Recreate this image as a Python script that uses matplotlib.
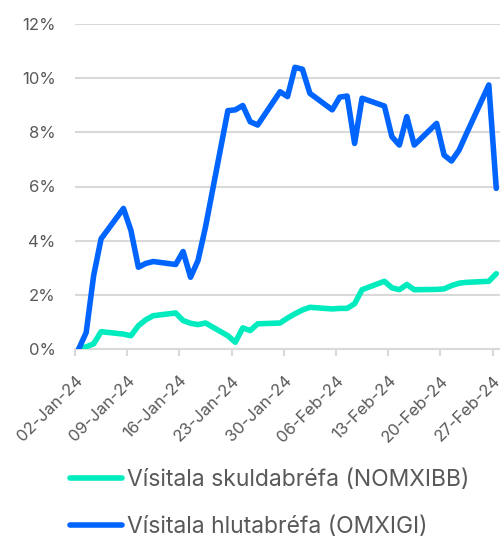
import matplotlib.pyplot as plt
import numpy as np
import pandas as pd

plt.rcParams['font.family'] = ['Inter', 'DejaVu Sans']

###--- Data ---###
dates = pd.to_datetime([
    '2024-01-02', '2024-01-03', '2024-01-04', '2024-01-05', '2024-01-08',
    '2024-01-09', '2024-01-10', '2024-01-11', '2024-01-12', '2024-01-15',
    '2024-01-16', '2024-01-17', '2024-01-18', '2024-01-19', '2024-01-22',
    '2024-01-23', '2024-01-24', '2024-01-25', '2024-01-26', '2024-01-29',
    '2024-01-30', '2024-01-31', '2024-02-01', '2024-02-02', '2024-02-05',
    '2024-02-06', '2024-02-07', '2024-02-08', '2024-02-09', '2024-02-12',
    '2024-02-13', '2024-02-14', '2024-02-15', '2024-02-16', '2024-02-19',
    '2024-02-20', '2024-02-21', '2024-02-22', '2024-02-23', '2024-02-26',
    '2024-02-27',
])

# Vísitala skuldabréfa (NOMXIBB), %
bonds = [0.00, 0.08, 0.19, 0.64, 0.55,
         0.49, 0.86, 1.08, 1.23, 1.33,
         1.05, 0.95, 0.90, 0.96, 0.49,
         0.25, 0.78, 0.68, 0.93, 0.96,
         1.14, 1.30, 1.44, 1.54, 1.48,
         1.50, 1.50, 1.67, 2.19, 2.50,
         2.26, 2.19, 2.38, 2.19, 2.20,
         2.22, 2.34, 2.43, 2.46, 2.50,
         2.78]

# Vísitala hlutabréfa (OMXIGI), %
stocks = [0.00, 0.61, 2.71, 4.07, 5.19,
          4.38, 3.02, 3.16, 3.23, 3.12,
          3.60, 2.65, 3.27, 4.50, 8.80,
          8.83, 8.99, 8.39, 8.27, 9.50,
          9.32, 10.40, 10.33, 9.44, 8.83,
          9.30, 9.34, 7.59, 9.26, 8.97,
          7.84, 7.53, 8.58, 7.53, 8.33,
          7.16, 6.94, 7.34, 7.95, 9.75,
          5.93]

labels = ['Vísitala skuldabréfa (NOMXIBB)', 'Vísitala hlutabréfa (OMXIGI)']
tick_dates = pd.date_range('2024-01-02', '2024-02-27', freq='7D')

###--- Plot ---###
c_bond = '#00EBBE'
c_stock = '#0064FF'
grey = '#595959'
gridc = '#D9D9D9'

fig = plt.figure(figsize=(5.0, 5.39), dpi=100)
ax = fig.add_axes([75 / 500, 1 - 349 / 539, 425 / 500, 325 / 539])

ax.plot(dates, bonds, color=c_bond, lw=4, solid_joinstyle='round',
        solid_capstyle='round', label=labels[0], zorder=3)
ax.plot(dates, stocks, color=c_stock, lw=4, solid_joinstyle='round',
        solid_capstyle='round', label=labels[1], zorder=4)

half = pd.Timedelta(hours=12)
ax.set_xlim(tick_dates[0] - half, pd.Timestamp('2024-02-28') - half)
ax.set_ylim(0, 12)

ax.set_yticks(np.arange(0, 13, 2))
ax.set_yticklabels([f'{v}%' for v in range(0, 13, 2)])
ax.set_xticks(tick_dates - half)
ax.set_xticklabels([d.strftime('%d-%b-%y') for d in tick_dates])

ax.grid(axis='y', color=gridc, lw=1.5)
ax.set_axisbelow(True)
for s in ['top', 'right', 'left']:
    ax.spines[s].set_visible(False)
ax.spines['bottom'].set_color(gridc)
ax.spines['bottom'].set_linewidth(1.5)

ax.tick_params(axis='y', length=0, pad=14, labelsize=12, labelcolor=grey)
ax.tick_params(axis='x', length=5, width=1.5, color=gridc, pad=12,
               labelsize=12, labelcolor=grey)
for lab in ax.get_xticklabels():
    lab.set_rotation(45)
    lab.set_ha('right')
    lab.set_va('top')
    lab.set_rotation_mode('anchor')

fig.legend(loc='upper left', bbox_to_anchor=(49 / 500, 1 - 448 / 539),
           frameon=False, fontsize=16.5, labelcolor=grey,
           handlelength=2.3, handletextpad=0.22, labelspacing=1.1)

fig.savefig('out.png', dpi=100)
